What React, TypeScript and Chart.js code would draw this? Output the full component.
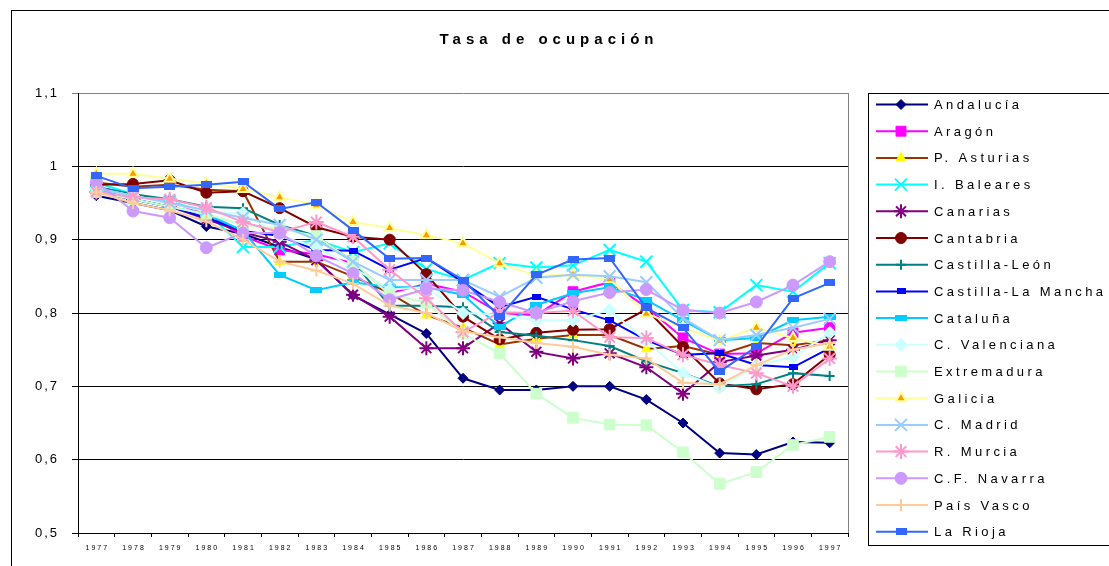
import React, { useEffect, useRef } from 'react';
import { Chart, registerables } from 'chart.js';
import { drawPoint } from 'chart.js/helpers';

Chart.register(...registerables);

const titleText = 'Tasa de ocupación';
const years = ['1977','1978','1979','1980','1981','1982','1983','1984','1985','1986','1987','1988','1989','1990','1991','1992','1993','1994','1995','1996','1997'];
const yTickValues = [0.5, 0.6, 0.7, 0.8, 0.9, 1.0, 1.1];
const yTickLabels = ['0,5', '0,6', '0,7', '0,8', '0,9', '1', '1,1'];

const seriesNames = ['Andalucía','Aragón','P. Asturias','I. Baleares','Canarias','Cantabria','Castilla-León','Castilla-La Mancha','Cataluña','C. Valenciana','Extremadura','Galicia','C. Madrid','R. Murcia','C.F. Navarra','País Vasco','La Rioja'];

const andalucia = [0.960,0.950,0.940,0.918,0.908,0.890,0.873,0.824,0.798,0.772,0.711,0.695,0.695,0.700,0.700,0.682,0.650,0.609,0.607,0.624,0.623];
const aragon = [0.972,0.962,0.952,0.935,0.905,0.886,0.880,0.868,0.827,0.840,0.829,0.800,0.797,0.829,0.842,0.808,0.766,0.744,0.745,0.773,0.780];
const asturias = [0.978,0.972,0.975,0.968,0.966,0.870,0.870,0.850,0.827,0.797,0.780,0.757,0.765,0.770,0.770,0.751,0.755,0.743,0.759,0.756,0.763];
const baleares = [0.978,0.962,0.952,0.938,0.890,0.890,0.900,0.883,0.895,0.860,0.845,0.868,0.862,0.865,0.886,0.870,0.804,0.801,0.838,0.829,0.868];
const canarias = [0.965,0.955,0.945,0.928,0.910,0.897,0.872,0.825,0.795,0.752,0.752,0.786,0.747,0.738,0.745,0.726,0.690,0.733,0.742,0.750,0.763];
const cantabria = [0.975,0.976,0.981,0.964,0.966,0.943,0.917,0.904,0.900,0.853,0.795,0.764,0.773,0.777,0.778,0.805,0.754,0.704,0.696,0.703,0.743];
const castillaLeon = [0.972,0.962,0.955,0.945,0.943,0.920,0.905,0.870,0.810,0.810,0.808,0.774,0.769,0.763,0.755,0.734,0.718,0.700,0.703,0.718,0.714];
const castillaMancha = [0.965,0.955,0.945,0.930,0.912,0.905,0.886,0.885,0.859,0.875,0.842,0.808,0.822,0.805,0.790,0.763,0.743,0.745,0.729,0.726,0.752];
const cataluna = [0.970,0.955,0.945,0.935,0.912,0.852,0.831,0.842,0.835,0.835,0.825,0.781,0.811,0.827,0.835,0.818,0.790,0.763,0.766,0.790,0.795];
const valenciana = [0.970,0.960,0.950,0.938,0.936,0.905,0.890,0.862,0.832,0.835,0.800,0.798,0.790,0.790,0.804,0.762,0.718,0.698,0.729,0.740,0.773];
const extremadura = [0.965,0.955,0.945,0.935,0.920,0.915,0.905,0.870,0.825,0.814,0.772,0.745,0.690,0.657,0.648,0.647,0.610,0.567,0.583,0.620,0.631];
const galicia = [0.990,0.990,0.983,0.977,0.969,0.958,0.947,0.924,0.916,0.906,0.895,0.868,0.851,0.852,0.846,0.799,0.780,0.762,0.780,0.766,0.754];
const madrid = [0.970,0.960,0.950,0.940,0.930,0.920,0.900,0.870,0.845,0.845,0.845,0.822,0.848,0.852,0.850,0.842,0.793,0.763,0.770,0.780,0.792];
const murcia = [0.965,0.958,0.955,0.944,0.924,0.910,0.924,0.904,0.859,0.820,0.774,0.801,0.800,0.803,0.767,0.766,0.743,0.729,0.718,0.700,0.738];
const navarra = [0.979,0.939,0.930,0.889,0.909,0.909,0.878,0.854,0.818,0.833,0.831,0.815,0.800,0.816,0.828,0.832,0.804,0.800,0.815,0.838,0.870];
const paisVasco = [0.965,0.950,0.940,0.925,0.900,0.870,0.858,0.840,0.810,0.800,0.775,0.767,0.759,0.754,0.743,0.738,0.705,0.703,0.729,0.750,0.759];
const rioja = [0.987,0.970,0.972,0.975,0.979,0.942,0.951,0.913,0.874,0.875,0.845,0.795,0.852,0.873,0.875,0.807,0.780,0.720,0.754,0.820,0.841];

const seriesValues = [andalucia, aragon, asturias, baleares, canarias, cantabria, castillaLeon, castillaMancha, cataluna, valenciana, extremadura, galicia, madrid, murcia, navarra, paisVasco, rioja];

function rectMarker(w: number, h: number, color: string): HTMLCanvasElement {
  const c = document.createElement('canvas');
  c.width = w;
  c.height = h;
  const g = c.getContext('2d')!;
  g.fillStyle = color;
  g.fillRect(0, 0, w, h);
  return c;
}

type Sty = { line: string; fill: string; stroke: string; style: any; radius: number; bw: number };

function makeStyles(): Sty[] {
  return [
    { line: '#000080', fill: '#000080', stroke: '#000080', style: 'rectRot', radius: 5, bw: 1 },
    { line: '#FF00FF', fill: '#FF00FF', stroke: '#FF00FF', style: 'rect', radius: 7, bw: 1 },
    { line: '#993300', fill: '#FFFF00', stroke: '#FFFF00', style: 'triangle', radius: 5.5, bw: 1 },
    { line: '#00FFFF', fill: '#00FFFF', stroke: '#00FFFF', style: 'crossRot', radius: 8.5, bw: 2 },
    { line: '#800080', fill: '#800080', stroke: '#800080', style: 'star', radius: 7, bw: 2 },
    { line: '#800000', fill: '#800000', stroke: '#800000', style: 'circle', radius: 5.5, bw: 1 },
    { line: '#008080', fill: '#008080', stroke: '#008080', style: 'cross', radius: 5, bw: 2 },
    { line: '#0000FF', fill: '#0000FF', stroke: '#0000FF', style: rectMarker(9, 6, '#0000FF'), radius: 4, bw: 1 },
    { line: '#00CCFF', fill: '#00CCFF', stroke: '#00CCFF', style: rectMarker(12, 6, '#00CCFF'), radius: 4, bw: 1 },
    { line: '#CCFFFF', fill: '#CCFFFF', stroke: '#CCFFFF', style: 'rectRot', radius: 6.5, bw: 1 },
    { line: '#CCFFCC', fill: '#CCFFCC', stroke: '#CCFFCC', style: 'rect', radius: 7.5, bw: 1 },
    { line: '#FFFF99', fill: '#FF9900', stroke: '#FFFF99', style: 'triangle', radius: 6, bw: 2 },
    { line: '#99CCFF', fill: '#99CCFF', stroke: '#99CCFF', style: 'crossRot', radius: 8.5, bw: 2 },
    { line: '#FF99CC', fill: '#FF99CC', stroke: '#FF99CC', style: 'star', radius: 7.5, bw: 2 },
    { line: '#CC99FF', fill: '#CC99FF', stroke: '#CC99FF', style: 'circle', radius: 6, bw: 1 },
    { line: '#FFCC99', fill: '#FFCC99', stroke: '#FFCC99', style: 'cross', radius: 6, bw: 2 },
    { line: '#3366FF', fill: '#3366FF', stroke: '#3366FF', style: rectMarker(11, 7, '#3366FF'), radius: 4, bw: 1 },
  ];
}

const FONT = '"Liberation Sans", Arial, Helvetica, sans-serif';

export default function App() {
  const ref = useRef<HTMLCanvasElement | null>(null);

  useEffect(() => {
    if (!ref.current) return;
    const styles = makeStyles();

    const overlay = {
      id: 'overlay',
      afterDraw(chart: any) {
        const ctx = chart.ctx as CanvasRenderingContext2D;
        const { top, bottom, right } = chart.chartArea;
        ctx.save();
        // outer frame
        ctx.strokeStyle = '#000000';
        ctx.lineWidth = 1;
        ctx.strokeRect(11.5, 10.5, 1300, 800);
        // plot area right border
        ctx.strokeStyle = '#808080';
        ctx.beginPath();
        ctx.moveTo(right + 0.5, top);
        ctx.lineTo(right + 0.5, bottom);
        ctx.stroke();

        ctx.fillStyle = '#000000';
        // title
        ctx.font = 'bold 15px ' + FONT;
        (ctx as any).letterSpacing = '5px';
        ctx.textAlign = 'center';
        ctx.textBaseline = 'alphabetic';
        ctx.fillText(titleText, 549, 44);

        // y tick labels
        const ys = chart.scales.y;
        ctx.font = '13px ' + FONT;
        (ctx as any).letterSpacing = '2px';
        ctx.textAlign = 'right';
        ctx.textBaseline = 'middle';
        yTickValues.forEach((v, i) => {
          ctx.fillText(yTickLabels[i], 59, ys.getPixelForValue(v));
        });

        // x tick labels
        const xs = chart.scales.x;
        ctx.font = '7px ' + FONT;
        (ctx as any).letterSpacing = '2px';
        ctx.textAlign = 'center';
        ctx.textBaseline = 'middle';
        years.forEach((yr, i) => {
          ctx.fillText(yr, xs.getPixelForValue(i) + 1, 548);
        });

        // legend
        ctx.strokeStyle = '#000000';
        ctx.lineWidth = 1;
        ctx.strokeRect(868.5, 93.5, 400, 452);
        ctx.font = '13px ' + FONT;
        (ctx as any).letterSpacing = '3.4px';
        ctx.textAlign = 'left';
        ctx.textBaseline = 'middle';
        seriesNames.forEach((name, i) => {
          const s = styles[i];
          const y = 104.5 + i * 26.7;
          ctx.strokeStyle = s.line;
          ctx.lineWidth = 2;
          ctx.beginPath();
          ctx.moveTo(876, y);
          ctx.lineTo(928, y);
          ctx.stroke();
          ctx.fillStyle = s.fill;
          ctx.strokeStyle = s.stroke;
          ctx.lineWidth = s.bw;
          drawPoint(ctx, { pointStyle: s.style, rotation: 0, radius: s.radius, borderWidth: s.bw } as any, 901, y);
          ctx.fillStyle = '#000000';
          ctx.fillText(name, 934, y + 1);
        });
        ctx.restore();
      },
    };

    const chart = new Chart(ref.current, {
      type: 'line',
      data: {
        labels: years,
        datasets: seriesNames.map((name, i) => ({
          label: name,
          data: seriesValues[i],
          borderColor: styles[i].line,
          backgroundColor: styles[i].fill,
          borderWidth: 2,
          pointStyle: styles[i].style,
          pointRadius: styles[i].radius,
          pointHoverRadius: styles[i].radius,
          pointBackgroundColor: styles[i].fill,
          pointBorderColor: styles[i].stroke,
          pointBorderWidth: styles[i].bw,
          tension: 0,
          fill: false,
          order: -i,
        })),
      },
      options: {
        animation: false,
        responsive: false,
        maintainAspectRatio: false,
        events: [],
        layout: { padding: { left: 0, top: 93, right: 261, bottom: 0 } },
        plugins: {
          legend: { display: false },
          title: { display: false },
          tooltip: { enabled: false },
        },
        scales: {
          x: {
            type: 'category',
            offset: true,
            afterFit: (s: any) => { s.height = 33; },
            grid: { drawOnChartArea: false, offset: true, tickLength: 4, color: '#000000', lineWidth: 1 },
            border: { color: '#000000', width: 1 },
            ticks: { display: false },
          },
          y: {
            min: 0.5,
            max: 1.1,
            afterFit: (s: any) => { s.width = 78; },
            afterBuildTicks: (s: any) => { s.ticks = yTickValues.map((v) => ({ value: v })); },
            grid: {
              color: (c: any) => (c.tick && Math.abs(c.tick.value - 1.1) < 1e-6 ? '#808080' : '#000000'),
              tickLength: 6,
              lineWidth: 1,
            },
            border: { color: '#000000', width: 1 },
            ticks: { display: false },
          },
        },
      },
      plugins: [overlay],
    });
    return () => chart.destroy();
  }, []);

  return (
    <div style={{ position: 'absolute', left: 0, top: 0, width: 1109, height: 566, background: '#ffffff' }}>
      <canvas ref={ref} width={1109} height={566} style={{ display: 'block' }} />
    </div>
  );
}
